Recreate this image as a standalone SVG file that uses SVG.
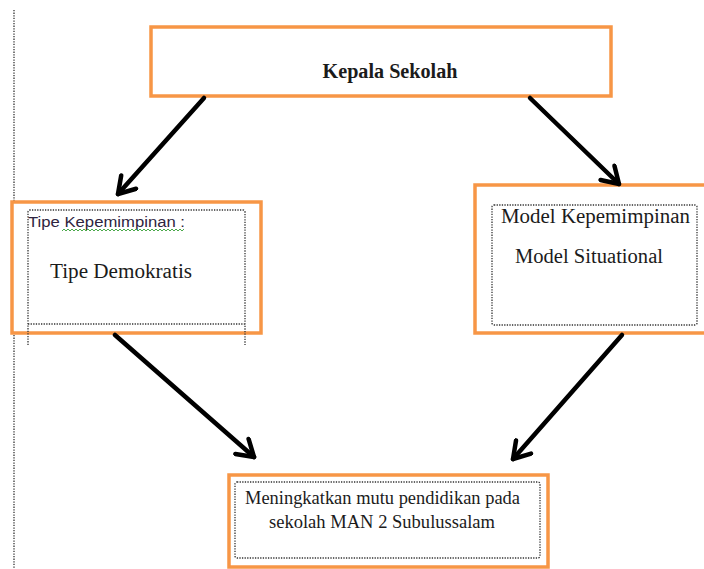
<svg xmlns="http://www.w3.org/2000/svg" width="704" height="569" viewBox="0 0 704 569">
<style>
.box{fill:#fff;stroke:#F79646;stroke-width:3.5}
.dot{fill:none;stroke:#333;stroke-width:1.3;stroke-dasharray:1.3 1.3}
.t{font-family:"Liberation Serif","Times New Roman",serif;fill:#1b1b1b}
.s{font-family:"Liberation Sans",Arial,sans-serif;fill:#2e2440}
.arr{fill:none;stroke:#000;stroke-width:4.5;stroke-linecap:round}
</style>
<defs>
<marker id="ah" viewBox="0 0 24 24" refX="20" refY="12" markerWidth="24" markerHeight="24" markerUnits="userSpaceOnUse" orient="auto">
<path d="M4,2 L20,12 L4,22" fill="none" stroke="#000" stroke-width="4.5" stroke-linecap="round" stroke-linejoin="round"/>
</marker>
</defs>
<line id="margin" x1="14" y1="10" x2="14" y2="569" class="dot"/>
<g id="kepala">
<rect class="box" x="151" y="27" width="460" height="69"/>
<text class="t" x="390" y="78" font-size="20" font-weight="bold" text-anchor="middle" textLength="135" lengthAdjust="spacingAndGlyphs">Kepala Sekolah</text>
</g>
<g id="tipe">
<rect class="box" x="12" y="202" width="249" height="131"/>
<path class="dot" d="M28,345 V212 Q28,210 30,210 H243 Q245,210 245,212 V345 M28,324 H245"/>
<text class="s" x="28" y="227" font-size="14" textLength="157" lengthAdjust="spacingAndGlyphs">Tipe Kepemimpinan  :</text>
<polyline points="62,231 64,229 66,231 68,229 70,231 72,229 74,231 76,229 78,231 80,229 82,231 84,229 86,231 88,229 90,231 92,229 94,231 96,229 98,231 100,229 102,231 104,229 106,231 108,229 110,231 112,229 114,231 116,229 118,231 120,229 122,231 124,229 126,231 128,229 130,231 132,229 134,231 136,229 138,231 140,229 142,231 144,229 146,231 148,229 150,231 152,229 154,231 156,229 158,231 160,229 162,231 164,229 166,231 168,229 170,231 172,229 174,231 176,229 178,231 180,229 182,231 184,229" fill="none" stroke="#4aa84a" stroke-width="1"/>
<text class="t" x="50" y="278" font-size="20" textLength="142" lengthAdjust="spacingAndGlyphs">Tipe Demokratis</text>
</g>
<g id="model">
<rect class="box" x="475" y="185" width="240" height="148"/>
<rect class="dot" x="492" y="205" width="205" height="120" rx="2"/>
<text class="t" x="501" y="223" font-size="20" textLength="189" lengthAdjust="spacingAndGlyphs">Model Kepemimpinan</text>
<text class="t" x="515" y="263" font-size="20" textLength="148" lengthAdjust="spacingAndGlyphs">Model Situational</text>
</g>
<g id="mutu">
<rect class="box" x="229" y="475" width="319" height="92"/>
<rect class="dot" x="235" y="482" width="305" height="76" rx="2"/>
<text class="t" x="245" y="504" font-size="18" textLength="275" lengthAdjust="spacingAndGlyphs">Meningkatkan  mutu pendidikan pada</text>
<text class="t" x="269" y="528" font-size="18" textLength="226" lengthAdjust="spacingAndGlyphs">sekolah MAN 2 Subulussalam</text>
</g>
<g id="connectors">
<line class="arr" x1="204" y1="98" x2="118" y2="194" marker-end="url(#ah)"/>
<line class="arr" x1="530" y1="98" x2="619" y2="184" marker-end="url(#ah)"/>
<line class="arr" x1="115" y1="335" x2="254" y2="457" marker-end="url(#ah)"/>
<line class="arr" x1="622" y1="335" x2="513" y2="459" marker-end="url(#ah)"/>
</g>
</svg>
